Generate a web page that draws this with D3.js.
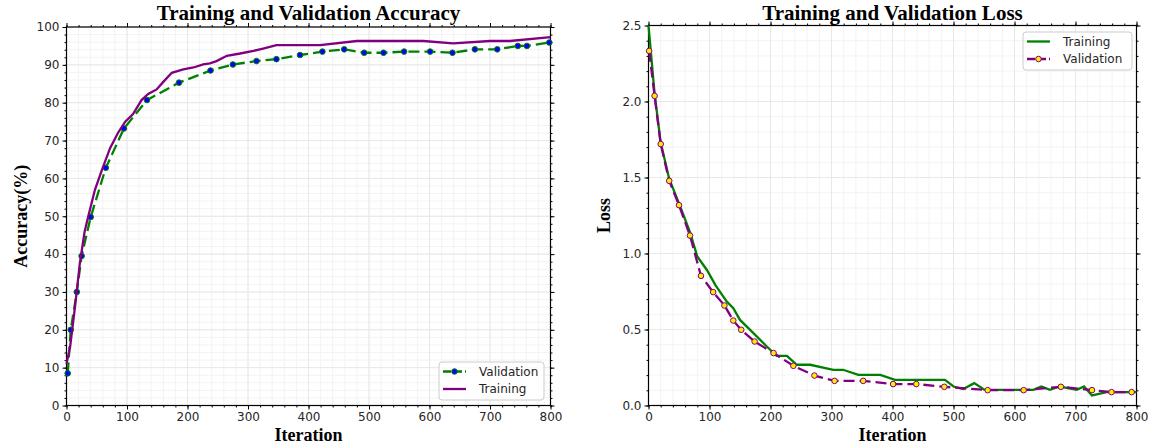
<!DOCTYPE html>
<html>
<head>
<meta charset="utf-8">
<script src="https://cdn.jsdelivr.net/npm/d3@7"></script>
<style>
  body { margin: 0; background: #fff; }
  .tick text { font-family: "DejaVu Sans", sans-serif; font-size: 12px; fill: #262626; }
  .tick line { stroke: #000; }
  .titre { font-family: "Liberation Serif", serif; font-weight: bold; font-size: 21px; fill: #000; }
  .etiquette { font-family: "Liberation Serif", serif; font-weight: bold; font-size: 18px; fill: #000; }
  .legende text { font-family: "DejaVu Sans", sans-serif; font-size: 12px; fill: #262626; }
</style>
</head>
<body>
<div id="graphic"></div>
<script>
// Deux graphiques : précision et perte en fonction des itérations

// Précision - entraînement (ligne continue)
let accTrainIter = [0, 6, 14, 22, 30, 36, 47, 58, 72, 85, 97, 110, 124, 135, 149, 160, 174, 193, 210, 226, 237, 248, 265, 287, 309, 325, 347, 419, 480, 590, 639, 700, 733, 800];
let accTrainVal = [11, 15.5, 26, 37.5, 46, 50, 57, 62, 68, 72, 75, 77, 80.7, 82.3, 83.5, 85.5, 87.9, 88.8, 89.3, 90.1, 90.4, 91, 92.4, 93, 93.7, 94.3, 95.2, 95.2, 96.3, 96.3, 95.7, 96.3, 96.3, 97.3];

// Précision - validation (tirets + marqueurs)
let accValIter = [2, 7, 17, 25, 40, 65, 95, 133, 186, 238, 275, 314, 347, 386, 423, 459, 492, 524, 558, 601, 638, 675, 712, 746, 761, 798];
let accValVal = [8.5, 20, 30, 39.5, 49.8, 62.8, 73.2, 80.7, 85.3, 88.5, 90.1, 91, 91.5, 92.6, 93.5, 94.1, 93.2, 93.2, 93.5, 93.5, 93.2, 94.1, 94.1, 95, 95, 95.9];

// Perte - entraînement
let lossTrainIter = [0, 10, 20, 34, 50, 68, 80, 96, 110, 128, 139, 150, 172, 194, 210, 227, 243, 265, 303, 319, 344, 380, 404, 486, 500, 516, 534, 551, 631, 644, 658, 674, 702, 714, 727, 751, 800];
let lossTrainVal = [2.5, 2.05, 1.73, 1.49, 1.33, 1.14, 0.98, 0.89, 0.79, 0.685, 0.64, 0.563, 0.476, 0.388, 0.327, 0.327, 0.268, 0.268, 0.235, 0.235, 0.202, 0.202, 0.169, 0.169, 0.125, 0.108, 0.147, 0.103, 0.103, 0.125, 0.103, 0.125, 0.103, 0.125, 0.066, 0.088, 0.088];

// Perte - validation
let lossValIter = [1, 10, 20, 34, 50, 68, 86, 106, 124.5, 139, 152, 174, 205, 237.5, 272, 305, 352, 401, 439, 485, 556, 615, 676, 727, 759, 792];
let lossValVal = [2.333, 2.037, 1.72, 1.478, 1.318, 1.118, 0.853, 0.746, 0.658, 0.559, 0.498, 0.421, 0.345, 0.261, 0.197, 0.162, 0.162, 0.141, 0.141, 0.123, 0.101, 0.101, 0.123, 0.101, 0.088, 0.088];

// Graduations
let xTicks = [0, 100, 200, 300, 400, 500, 600, 700, 800];
let accTicks = [0, 10, 20, 30, 40, 50, 60, 70, 80, 90, 100];
let lossTicks = [0, 0.5, 1.0, 1.5, 2.0, 2.5];

let cadre = d3.select("#graphic")
  .append("svg")
  .attr("width", 1152)
  .attr("height", 447);

let zip = (a, b) => a.map((v, i) => [v, b[i]]);

// Dessine un panneau complet (grille, axes, courbes, légende)
function drawPanel(p) {
  let x = d3.scaleLinear().domain([0, 800]).range([p.left, p.right]);
  let y = d3.scaleLinear().domain(p.yDomain).range([p.bottom, p.top]);
  let g = cadre.append("g");

  // Grille mineure puis majeure
  let xMinor = d3.range(0, 801, 20);
  let yMinor = d3.range(p.yDomain[0], p.yDomain[1] + p.yMinorStep / 2, p.yMinorStep);
  g.append("g").selectAll("line").data(xMinor).enter().append("line")
    .attr("x1", d => x(d)).attr("x2", d => x(d))
    .attr("y1", p.top).attr("y2", p.bottom)
    .attr("stroke", "#f3f3f3");
  g.append("g").selectAll("line").data(yMinor).enter().append("line")
    .attr("x1", p.left).attr("x2", p.right)
    .attr("y1", d => y(d)).attr("y2", d => y(d))
    .attr("stroke", "#f3f3f3");
  g.append("g").selectAll("line").data(xTicks).enter().append("line")
    .attr("x1", d => x(d)).attr("x2", d => x(d))
    .attr("y1", p.top).attr("y2", p.bottom)
    .attr("stroke", "#e8e8e8");
  g.append("g").selectAll("line").data(p.yTicks).enter().append("line")
    .attr("x1", p.left).attr("x2", p.right)
    .attr("y1", d => y(d)).attr("y2", d => y(d))
    .attr("stroke", "#e8e8e8");

  // Axes sur les quatre côtés, graduations majeures et mineures
  let axes = [
    [d3.axisBottom, x, `translate(0,${p.bottom})`, xTicks, xMinor, true],
    [d3.axisTop, x, `translate(0,${p.top})`, xTicks, xMinor, false],
    [d3.axisLeft, y, `translate(${p.left},0)`, p.yTicks, yMinor, true],
    [d3.axisRight, y, `translate(${p.right},0)`, p.yTicks, yMinor, false]
  ];
  axes.forEach(function(a) {
    let make = a[0], sc = a[1];
    g.append("g").attr("transform", a[2])
      .call(make(sc).tickValues(a[4]).tickSize(2).tickFormat(""))
      .call(s => s.select(".domain").remove());
    let major = make(sc).tickValues(a[3]).tickSize(4).tickPadding(3);
    if (a[5]) major.tickFormat(sc === y && p.fmt ? p.fmt : d3.format("d"));
    else major.tickFormat("");
    g.append("g").attr("transform", a[2])
      .call(major)
      .call(s => s.select(".domain").remove());
  });

  // Cadre
  g.append("rect")
    .attr("x", p.left).attr("y", p.top)
    .attr("width", p.right - p.left).attr("height", p.bottom - p.top)
    .attr("fill", "none").attr("stroke", "#000").attr("stroke-width", 1.2);

  // Courbes
  let line = d3.line().x(d => x(d[0])).y(d => y(d[1]));
  p.series.forEach(function(s) {
    g.append("path")
      .datum(s.data)
      .attr("d", line)
      .attr("fill", "none")
      .attr("stroke", s.color)
      .attr("stroke-width", 2.3)
      .attr("stroke-dasharray", s.dash ? "11,5" : null);
    if (s.marker) {
      g.append("g").selectAll("circle").data(s.data).enter().append("circle")
        .attr("cx", d => x(d[0])).attr("cy", d => y(d[1]))
        .attr("r", 2.8)
        .attr("fill", s.marker)
        .attr("stroke", s.color)
        .attr("stroke-width", 1);
    }
  });

  // Titres
  let cx = (p.left + p.right) / 2;
  g.append("text").attr("class", "titre")
    .attr("x", cx).attr("y", 20).attr("text-anchor", "middle").text(p.title);
  g.append("text").attr("class", "etiquette")
    .attr("x", cx).attr("y", 441).attr("text-anchor", "middle").text("Iteration");
  g.append("text").attr("class", "etiquette")
    .attr("transform", `translate(${p.yLabelX},${(p.top + p.bottom) / 2}) rotate(-90)`)
    .attr("text-anchor", "middle").text(p.yLabel);

  // Légende
  let L = p.legend;
  let leg = g.append("g").attr("class", "legende");
  leg.append("rect")
    .attr("x", L.x).attr("y", L.y).attr("width", L.w).attr("height", 38)
    .attr("rx", 3)
    .attr("fill", "#fff").attr("fill-opacity", 0.8)
    .attr("stroke", "#cccccc");
  L.order.forEach(function(idx, i) {
    let s = p.series[idx];
    let ly = L.y + 9.5 + i * 17.5;
    leg.append("line")
      .attr("x1", L.x + 4).attr("x2", L.x + 27)
      .attr("y1", ly).attr("y2", ly)
      .attr("stroke", s.color).attr("stroke-width", 2.3)
      .attr("stroke-dasharray", s.dash ? "8,3" : null);
    if (s.marker) {
      leg.append("circle").attr("cx", L.x + 15.5).attr("cy", ly).attr("r", 2.8)
        .attr("fill", s.marker).attr("stroke", s.color);
    }
    leg.append("text").attr("x", L.x + 40).attr("y", ly + 4.3).text(s.name);
  });
}

drawPanel({
  left: 66.5, right: 550.5, top: 27, bottom: 405.5,
  yDomain: [0, 100], yTicks: accTicks, yMinorStep: 2,
  title: "Training and Validation Accuracy", yLabel: "Accuracy(%)", yLabelX: 27,
  series: [
    {name: "Validation", data: zip(accValIter, accValVal), color: "#008000", dash: true, marker: "#0000ff"},
    {name: "Training", data: zip(accTrainIter, accTrainVal), color: "#800080"}
  ],
  legend: {x: 439, y: 362, w: 105, order: [0, 1]}
});

drawPanel({
  left: 648.5, right: 1136.5, top: 25.5, bottom: 405.5,
  yDomain: [0, 2.5], yTicks: lossTicks, yMinorStep: 0.1, fmt: d3.format(".1f"),
  title: "Training and Validation Loss", yLabel: "Loss", yLabelX: 610,
  series: [
    {name: "Training", data: zip(lossTrainIter, lossTrainVal), color: "#008000"},
    {name: "Validation", data: zip(lossValIter, lossValVal), color: "#800080", dash: true, marker: "#ffee00"}
  ],
  legend: {x: 1023, y: 32, w: 109, order: [0, 1]}
});
</script>
</body>
</html>
